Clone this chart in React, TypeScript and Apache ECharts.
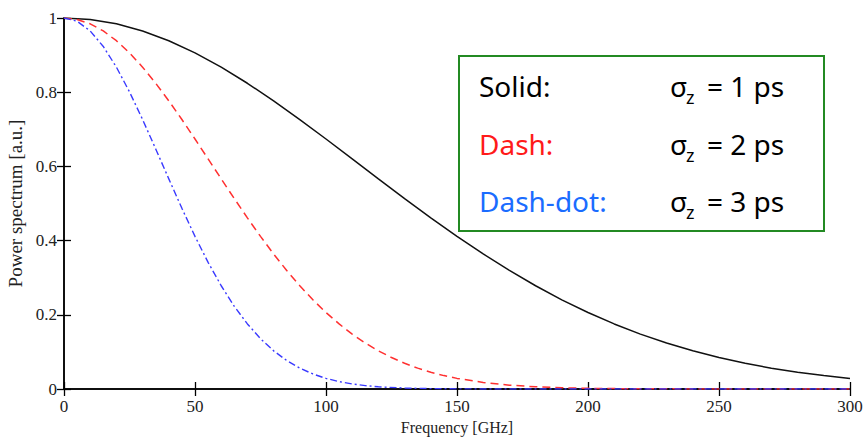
import React, { useEffect, useRef } from "react";
import * as echarts from "echarts";

const freqSolid = [0,10,20,30,40,50,60,70,80,90,100,110,120,130,140,150,160,170,180,190,200,210,220,230,240,250,260,270,280,290,300];
const solid = [1,0.9961,0.9843,0.9651,0.9388,0.906,0.8675,0.8241,0.7767,0.7263,0.6738,0.6202,0.5664,0.5132,0.4613,0.4114,0.364,0.3195,0.2783,0.2404,0.2061,0.1754,0.148,0.1239,0.1029,0.0848,0.0693,0.0562,0.0453,0.0361,0.0286];

const freqDash = [0,5,10,15,20,25,30,35,40,45,50,55,60,65,70,75,80,85,90,95,100,105,110,115,120,125,130,135,140,145,150,160,170,180,190,200,220,250,300];
const dash = [1,0.9961,0.9843,0.9651,0.9388,0.906,0.8675,0.8241,0.7767,0.7263,0.6738,0.6202,0.5664,0.5132,0.4613,0.4114,0.364,0.3195,0.2783,0.2404,0.2061,0.1754,0.148,0.1239,0.1029,0.0848,0.0693,0.0562,0.0453,0.0361,0.0286,0.0176,0.0104,0.006,0.0033,0.0018,0.0005,0.0001,0];

const freqDashDot = [0,5,10,15,20,25,30,35,40,45,50,55,60,65,70,75,80,85,90,95,100,105,110,115,120,130,140,150,170,200,250,300];
const dashDot = [1,0.9912,0.9651,0.9232,0.8675,0.8009,0.7263,0.6471,0.5664,0.487,0.4114,0.3414,0.2783,0.2229,0.1754,0.1355,0.1029,0.0768,0.0562,0.0405,0.0286,0.0199,0.0136,0.0091,0.006,0.0025,0.001,0.0003,0,0,0,0];

const xTicks = { min: 0, max: 300, interval: 50 };
const yTicks = { min: 0, max: 1, interval: 0.2 };

const legendRows = [
  { label: "Solid:", color: "#000000", sigma: "= 1 ps" },
  { label: "Dash:", color: "#ff1a1a", sigma: "= 2 ps" },
  { label: "Dash-dot:", color: "#1a6cff", sigma: "= 3 ps" },
];

const zip = (xs: number[], ys: number[]) => xs.map((x, i) => [x, ys[i]]);

export default function App() {
  const ref = useRef<HTMLDivElement>(null);
  useEffect(() => {
    if (!ref.current) return;
    const chart = echarts.init(ref.current, null, { renderer: "svg" });
    const serif = "Liberation Serif, Times New Roman, serif";
    const legendFont = "Comic Sans MS, Noto Sans, sans-serif";
    const axisLine = { show: true, lineStyle: { color: "#000", width: 1.5 } };
    const tick = { show: true, inside: true, length: 7, lineStyle: { color: "#000", width: 1.3 } };
    const graphics: any[] = [
      {
        type: "rect",
        left: 458,
        top: 55,
        shape: { width: 365, height: 175 },
        style: { fill: "#fff", stroke: "#238a23", lineWidth: 2 },
        z: 100,
      },
    ];
    const rowY = [86, 144, 201];
    legendRows.forEach((r, i) => {
      const y = rowY[i];
      graphics.push(
        { type: "text", x: 479, y, z: 101, style: { text: r.label, fill: r.color, font: `28px ${legendFont}`, verticalAlign: "middle" } },
        { type: "text", x: 670, y, z: 101, style: { text: "σ", fill: "#000", font: `28px ${legendFont}`, verticalAlign: "middle" } },
        { type: "text", x: 686, y: y + 11, z: 101, style: { text: "z", fill: "#000", font: `18px ${legendFont}`, verticalAlign: "middle" } },
        { type: "text", x: 707, y, z: 101, style: { text: r.sigma, fill: "#000", font: `28px ${legendFont}`, verticalAlign: "middle" } }
      );
    });
    chart.setOption({
      animation: false,
      backgroundColor: "#fff",
      grid: { left: 64, right: 16, top: 18, bottom: 51, containLabel: false, outerBoundsMode: "none" },
      xAxis: [
        {
          type: "value", ...xTicks,
          name: "Frequency [GHz]", nameLocation: "middle", nameGap: 29,
          nameTextStyle: { fontFamily: serif, fontSize: 16, color: "#222" },
          axisLine, axisTick: tick,
          axisLabel: { fontFamily: serif, fontSize: 17, color: "#222", margin: 9 },
          splitLine: { show: false },
        },
        {
          type: "value", ...xTicks, position: "top",
          axisLine, axisTick: tick,
          axisLabel: { show: false }, splitLine: { show: false },
        },
      ],
      yAxis: [
        {
          type: "value", ...yTicks,
          name: "Power spectrum [a.u.]", nameLocation: "middle", nameGap: 32,
          nameTextStyle: { fontFamily: serif, fontSize: 19, color: "#222" },
          axisLine, axisTick: tick,
          axisLabel: { fontFamily: serif, fontSize: 17, color: "#222", margin: 7,
            formatter: (v: number) => (v === 0 || v === 1 ? String(v) : v.toFixed(1)) },
          splitLine: { show: false },
        },
        {
          type: "value", ...yTicks, position: "right",
          axisLine, axisTick: tick,
          axisLabel: { show: false }, splitLine: { show: false },
        },
      ],
      series: [
        {
          type: "line", data: zip(freqSolid, solid), showSymbol: false, smooth: false,
          lineStyle: { color: "#111", width: 1.5, type: "solid" }, z: 3,
        },
        {
          type: "line", data: zip(freqDash, dash), showSymbol: false, smooth: false,
          lineStyle: { color: "#ff3030", width: 1.5, type: [8, 5] }, z: 4,
        },
        {
          type: "line", data: zip(freqDashDot, dashDot), showSymbol: false, smooth: false,
          lineStyle: { color: "#3a3aff", width: 1.4, type: [7, 3, 2, 3] }, z: 5,
        },
      ],
      graphic: graphics,
    });
    return () => chart.dispose();
  }, []);
  return <div ref={ref} style={{ width: 866, height: 440, position: "absolute", left: 0, top: 0 }} />;
}
